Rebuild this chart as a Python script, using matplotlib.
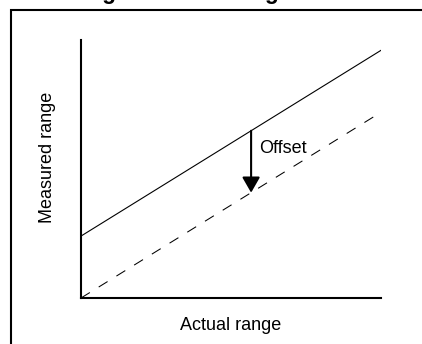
import matplotlib
matplotlib.use("Agg")
import numpy as np
import matplotlib.pyplot as plt
from matplotlib.patches import Rectangle

plt.rcParams["font.family"] = ["Liberation Sans", "DejaVu Sans"]

# ── Data (arbitrary units, schematic) ─────────────────────────────────────────
actual       = [0.0, 10.0]
ideal        = [0.0, 7.2]      # dashed: measured == actual
measured     = [2.4, 9.6]      # solid: measured with offset
arrow_x      = 5.67
title        = "Figure 13-12 Range offset"
x_label      = "Actual range"
y_label      = "Measured range"
offset_label = "Offset"

W, H = 422, 344
fig = plt.figure(figsize=(W / 100, H / 100), dpi=100)
ax = fig.add_axes([81 / W, 46 / H, 300 / W, 258 / H])

ax.plot(actual, measured, color="black", lw=0.8)
ax.plot(actual, ideal, color="black", lw=0.75, linestyle=(0, (10, 10)))

# arrow between the two lines
y_top = np.interp(arrow_x, actual, measured)
y_bot = np.interp(arrow_x, actual, ideal)
ax.annotate("", xy=(arrow_x, y_bot), xytext=(arrow_x, y_top),
            arrowprops=dict(arrowstyle="-|>,head_length=0.94,head_width=0.54",
                            mutation_scale=10, lw=1.5, color="black",
                            shrinkA=0, shrinkB=0))
ax.annotate(offset_label, xy=(arrow_x, y_top), xytext=(8, -22),
            textcoords="offset pixels", ha="left", va="baseline", fontsize=13)

ax.set_xlim(0, 10); ax.set_ylim(0, 10)
ax.set_xticks([]); ax.set_yticks([])
for s in ["top", "right"]:
    ax.spines[s].set_visible(False)
for s in ["left", "bottom"]:
    ax.spines[s].set_linewidth(1.5)

fig.text(231 / W, (H - 330) / H, x_label, ha="center", va="baseline", fontsize=13)
fig.text(47 / W, (H - 157) / H, y_label, ha="center", va="center",
         rotation=90, fontsize=13)

# outer frame (cut off at right and bottom) and title clipped by the top edge
fig.patches.append(Rectangle((10.5 / W, -0.1), 2, (H - 9.5) / H + 0.1,
                             transform=fig.transFigure, fill=False,
                             lw=1.5, edgecolor="black"))
fig.text(221 / W, 1 + 1.5 / H, title, ha="center", va="baseline",
         fontsize=16.4, fontweight="bold")

plt.savefig("out.png", dpi=100)
